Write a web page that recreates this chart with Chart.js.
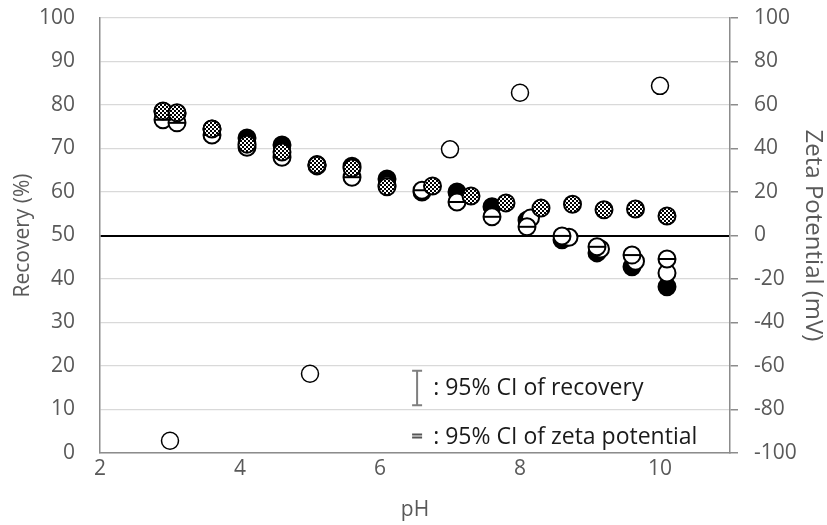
<!DOCTYPE html>
<html>
<head>
<meta charset="utf-8">
<script src="https://cdn.jsdelivr.net/npm/chart.js@4/dist/chart.umd.min.js"></script>
<style>
  html, body { margin: 0; padding: 0; background: #fff; }
  #wrap { width: 827px; height: 525px; }
</style>
</head>
<body>
<div id="wrap"><canvas id="chart" width="827" height="525"></canvas></div>
<script>
// pH of the main sample series
const phMain = [2.9, 3.1, 3.6, 4.1, 4.6, 5.1, 5.6, 6.1, 6.6, 7.1, 7.6, 8.1, 8.6, 9.1, 9.6, 10.1];
// recovery (%) – filled black circles
const recoveryBlack = [78.5, 78.0, 74.5, 72.4, 70.8, 66.3, 65.9, 63.0, 60.0, 60.0, 56.6, 53.5, 49.0, 46.0, 42.8, 38.2];
// recovery (%) – open circles with bar
const recoveryWhite = [76.6, 75.9, 73.1, 70.3, 68.0, 66.0, 63.4, 61.6, 60.4, 57.7, 54.3, 52.0, 49.9, 47.4, 45.5, 44.6];
// second set of open circles (visible at high pH)
const phWhite2 = [8.15, 8.7, 9.15, 9.65, 10.1];
const recoveryWhite2 = [54.0, 49.6, 46.9, 44.1, 41.4];
// zeta potential (mV) – checker circles
const phZeta = [2.9, 3.1, 3.6, 4.1, 4.6, 5.1, 5.6, 6.1, 6.75, 7.3, 7.8, 8.3, 8.75, 9.2, 9.65, 10.1];
const zetaValues = [57.2, 56.4, 49.0, 42.0, 38.4, 32.4, 31.0, 22.4, 22.8, 18.2, 15.0, 12.6, 14.4, 11.8, 12.2, 9.0];
// single open circles
const phOpen = [3, 5, 7, 8, 10];
const recoveryOpen = [2.8, 18.2, 69.8, 82.8, 84.4];

const xTicks = [2, 4, 6, 8, 10];
const legendLines = [': 95% CI of recovery', ': 95% CI of zeta potential'];

const pts = (xs, ys) => xs.map((x, i) => ({ x, y: ys[i] }));

function checkerPattern() {
  const c = document.createElement('canvas');
  c.width = 4;
  c.height = 4;
  const g = c.getContext('2d');
  g.fillStyle = '#fff';
  g.fillRect(0, 0, 4, 4);
  g.fillStyle = '#000';
  g.fillRect(0, 0, 2, 2);
  g.fillRect(2, 2, 2, 2);
  return g.createPattern(c, 'repeat');
}

const ctx = document.getElementById('chart').getContext('2d');
const checker = checkerPattern();
const tickFont = { family: 'Open Sans', size: 21 };
const grey = '#595959';
const axisGrey = '#8c8c8c';

// text box with the CI symbols, drawn in data coordinates
const ciNote = {
  id: 'ciNote',
  afterDatasetsDraw(chart) {
    const { ctx: c, chartArea: a, scales: { x, y } } = chart;
    c.save();
    c.beginPath();
    c.rect(a.left, a.top, a.right - a.left, a.bottom - a.top);
    c.clip();
    const bx = x.getPixelForValue(6.53);
    const top = y.getPixelForValue(18.9);
    const bot = y.getPixelForValue(11.0);
    c.strokeStyle = '#7f7f7f';
    c.lineWidth = 2;
    c.beginPath();
    c.moveTo(bx, top); c.lineTo(bx, bot);
    c.moveTo(bx - 5, top); c.lineTo(bx + 5, top);
    c.moveTo(bx - 5, bot); c.lineTo(bx + 5, bot);
    c.stroke();
    const zy = y.getPixelForValue(3.9);
    c.strokeStyle = '#555';
    c.beginPath();
    c.moveTo(bx - 5, zy - 1.5); c.lineTo(bx + 5, zy - 1.5);
    c.moveTo(bx - 5, zy + 1.5); c.lineTo(bx + 5, zy + 1.5);
    c.stroke();
    c.fillStyle = '#1a1a1a';
    c.font = '23px "Open Sans"';
    c.textBaseline = 'middle';
    const tx = x.getPixelForValue(6.76);
    c.fillText(legendLines[0], tx, y.getPixelForValue(14.9));
    c.fillText(legendLines[1], tx, y.getPixelForValue(3.6));
    c.restore();
  },
};

const fixVertical = (w) => (s) => {
  s.width = w;
  s.paddingTop = 0;
  s.paddingBottom = 0;
};

new Chart(ctx, {
  type: 'scatter',
  data: {
    datasets: [
      {
        label: 'Zeta potential',
        data: pts(phZeta, zetaValues),
        yAxisID: 'y1',
        pointRadius: 8.5,
        pointBackgroundColor: checker,
        pointBorderColor: '#000',
        pointBorderWidth: 2,
        order: 0,
      },
      {
        label: 'bar',
        data: pts(phMain, recoveryWhite),
        pointStyle: 'line',
        pointRadius: 8.5,
        pointBorderColor: '#000',
        pointBorderWidth: 2,
        order: 1,
      },
      {
        label: 'Recovery B',
        data: pts(phMain, recoveryWhite),
        pointRadius: 8.5,
        pointBackgroundColor: '#fff',
        pointBorderColor: '#000',
        pointBorderWidth: 2,
        order: 2,
      },
      {
        label: 'Recovery C',
        data: pts(phWhite2, recoveryWhite2),
        pointRadius: 8.5,
        pointBackgroundColor: '#fff',
        pointBorderColor: '#000',
        pointBorderWidth: 2,
        order: 3,
      },
      {
        label: 'Recovery A',
        data: pts(phMain, recoveryBlack),
        pointRadius: 8.5,
        pointBackgroundColor: '#000',
        pointBorderColor: '#000',
        pointBorderWidth: 2,
        order: 4,
      },
      {
        label: 'Recovery single',
        data: pts(phOpen, recoveryOpen),
        pointRadius: 8.5,
        pointBackgroundColor: '#fff',
        pointBorderColor: '#000',
        pointBorderWidth: 1.5,
        order: 5,
      },
    ],
  },
  options: {
    responsive: false,
    animation: false,
    layout: { padding: { top: 18, left: 0, right: 0, bottom: 0 } },
    plugins: { legend: { display: false }, tooltip: { enabled: false } },
    scales: {
      x: {
        type: 'linear',
        min: 2,
        max: 11,
        afterBuildTicks: (s) => { s.ticks = xTicks.map((v) => ({ value: v })); },
        afterFit: (s) => { s.height = 72; },
        grid: { display: false },
        border: { display: true, color: axisGrey, width: 1.5 },
        ticks: { color: grey, font: tickFont, padding: -5, maxRotation: 0 },
        title: { display: true, text: 'pH', color: grey, font: tickFont, padding: { top: 0, bottom: 2 } },
      },
      y: {
        position: 'left',
        min: 0,
        max: 100,
        afterFit: fixVertical(100),
        ticks: { stepSize: 10, color: grey, font: tickFont, padding: 25 },
        grid: {
          drawTicks: false,
          color: (c) => (c.tick && c.tick.value === 50 ? '#000' : '#d9d9d9'),
          lineWidth: (c) => (c.tick && c.tick.value === 50 ? 2 : 1.3),
        },
        border: { display: true, color: axisGrey, width: 1.5 },
        title: { display: true, text: 'Recovery (%)', color: grey, font: tickFont, padding: { top: 10, bottom: 0 } },
      },
      y1: {
        position: 'right',
        min: -100,
        max: 100,
        afterFit: fixVertical(97),
        ticks: { stepSize: 20, color: grey, font: tickFont, padding: 16 },
        grid: { drawOnChartArea: false, tickLength: 8, color: axisGrey, lineWidth: 1.5 },
        border: { display: true, color: axisGrey, width: 1.5 },
        title: { display: true, text: 'Zeta Potential (mV)', color: grey, font: { family: 'Open Sans', size: 24 }, padding: { top: 0, bottom: 0 } },
      },
    },
  },
  plugins: [ciNote],
});
</script>
</body>
</html>
